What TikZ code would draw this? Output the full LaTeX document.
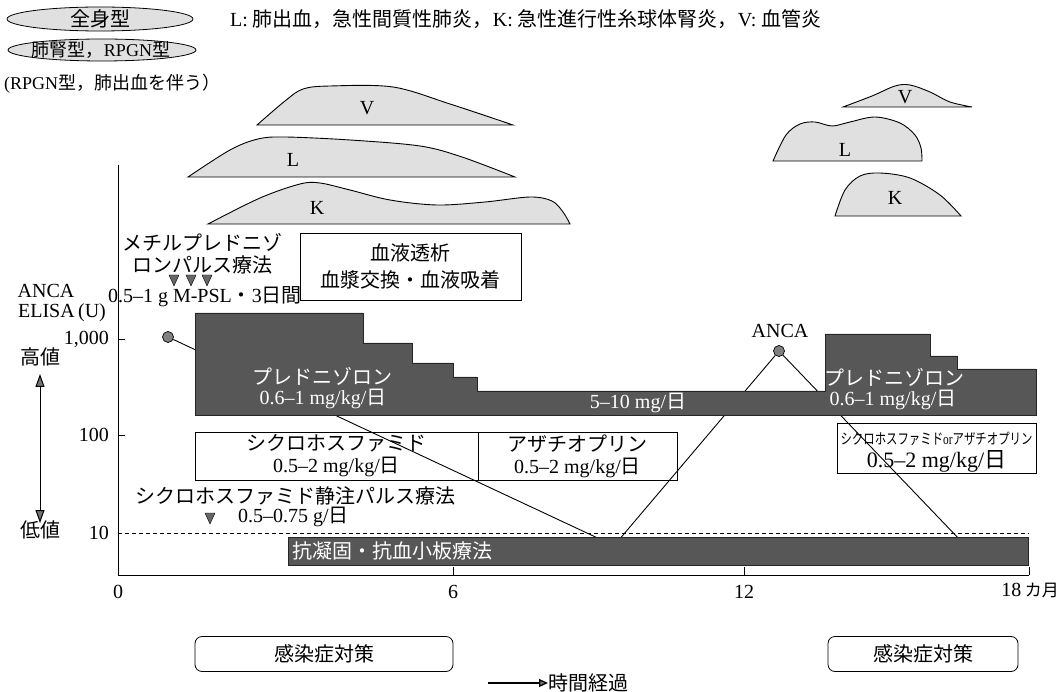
\documentclass[tikz,border=0pt]{standalone}
\usepackage{fontspec}
\usepackage{graphicx}
\setmainfont{Liberation Serif}
\newfontfamily\jp{Noto Sans CJK JP}
\usetikzlibrary{arrows.meta,shapes.geometric}
\newcommand{\J}[1]{{\jp #1}}
\newcommand{\downtri}[2]{\filldraw[pulsetri] (#1-5,#2-5) -- (#1+5,#2-5) -- (#1,#2+6) -- cycle;}
\begin{document}
\begin{tikzpicture}[x=1pt,y=-1pt,
  every node/.style={font=\fontsize{20}{22}\selectfont, inner sep=0pt},
  legell/.style={draw=black, line width=0.8pt, fill=black!12},
  hump/.style={draw=black, line width=0.9pt, fill=black!12},
  darkbar/.style={fill=black!66, draw=black!85, line width=0.5pt},
  whitebox/.style={draw=black, line width=0.8pt, fill=white},
  wtext/.style={text=white},
  axisline/.style={line width=0.9pt},
  dot/.style={circle, fill=black!50, draw=black, line width=0.7pt, minimum size=11pt, inner sep=0pt},
  ancaline/.style={line width=0.9pt},
  pulsetri/.style={fill=black!60, draw=black, line width=0.4pt},
  infobox/.style={draw=black, line width=0.8pt, rounded corners=7pt},
]
\useasboundingbox (0,0) rectangle (1063,692);

% ---------- legend ----------
\draw[legell] (100,19) ellipse [x radius=93, y radius=12];
\node (t1) at (100,19) {\J{全身型}};
\draw[legell] (102,50) ellipse [x radius=94, y radius=11];
\node[font=\fontsize{18}{20}\selectfont] (t2) at (101,50) {\J{肺腎型，}RPGN\J{型}};
\node[anchor=west, font=\fontsize{18}{20}\selectfont] (t3) at (4,84) {(RPGN\J{型，肺出血を伴う）}};
\node[anchor=west] (leg) at (230,19) {L: \J{肺出血，急性間質性肺炎，}K: \J{急性進行性糸球体腎炎，}V: \J{血管炎}};

% ---------- humps (left) ----------
\draw[hump] plot[smooth, tension=0.55] coordinates {(257,125) (285,101) (303,89) (330,86) (393,87) (450,104) (513,125)} -- cycle;
\node (hv1) at (367,108) {V};
\draw[hump] plot[smooth, tension=0.55] coordinates {(188,177) (230,150) (258,139) (285,137) (350,140) (420,146) (462,157) (515,177)} -- cycle;
\node (hl1) at (293,160) {L};
\draw[hump] plot[smooth, tension=0.55] coordinates {(208,224) (260,198) (300,184) (320,183) (350,190) (390,200) (437,205) (485,202) (530,197) (552,201) (563,212) (570,224)} -- cycle;
\node (hk1) at (317,208) {K};

% ---------- humps (right) ----------
\draw[hump] plot[smooth, tension=0.55] coordinates {(843,107) (872,96) (895,86) (910,85) (930,92) (950,102) (972,107)} -- cycle;
\node (hv2) at (905,97) {V};
\draw[hump] plot[smooth, tension=0.55] coordinates {(773,161) (786,135) (800,124) (815,122) (832,126) (850,122) (875,117) (900,123) (915,135) (921,148) (922,161)} -- cycle;
\node (hl2) at (845,150) {L};
\draw[hump] plot[smooth, tension=0.55] coordinates {(835,216) (845,190) (860,176) (880,173) (910,178) (940,195) (961,216)} -- cycle;
\node (hk2) at (895,198) {K};

% ---------- axes ----------
\draw[axisline] (118,165) -- (118,575) -- (1029,575);
\draw[axisline] (118,339) -- (125,339);
\draw[axisline] (118,435) -- (125,435);
\draw[axisline] (453,575) -- (453,567);
\draw[axisline] (744,575) -- (744,567);
\draw[axisline] (1029,575) -- (1029,567);
\draw[line width=0.7pt, dash pattern=on 4pt off 3pt] (118,533) -- (1029,533);

\node (ya) at (46,291) {ANCA};
\node (yb) at (62,313) {ELISA\,(U)};
\node[anchor=east] (y1000) at (109,339) {1,000};
\node[anchor=east] (y100) at (109,435) {100};
\node[anchor=east] (y10) at (109,533) {10};
\node (hi) at (40,357) {\J{高値}};
\node (lo) at (40,530) {\J{低値}};
\draw[line width=1pt, {Triangle[width=9pt,length=13pt,fill=black!55]}-{Triangle[width=9pt,length=13pt,fill=black!55]}] (hi.south |- 0,374) -- (lo.north |- 0,523);

\node (x0) at (118,592) {0};
\node (x6) at (453,592) {6};
\node (x12) at (744,592) {12};
\node[anchor=east] (x18) at (1059,590) {18\,{\jp\fontsize{17}{17}\selectfont カ月}};

% ---------- methylprednisolone pulse ----------
\node[align=center] (mp) at (202,254) {\J{メチルプレドニゾ}\\\J{ロンパルス療法}};
\downtri{174}{280}
\downtri{191}{280}
\downtri{207}{280}
\node (mpd) at (205,297) {0.5--1 g M-PSL\J{・}3\J{日間}};

% ---------- dialysis ----------
\node[whitebox, minimum width=221pt, minimum height=67pt, align=center, font=\fontsize{20}{27}\selectfont] (dial) at (410.5,266.5) {\J{血液透析}\\\J{血漿交換・血液吸着}};

% ---------- drug boxes ----------
\node[whitebox, minimum width=283pt, minimum height=48pt, align=center] (cyc) at (336.5,456) {\J{シクロホスファミド}\\0.5--2 mg/kg/\J{日}};
\node[whitebox, minimum width=199pt, minimum height=48pt, align=center] (aza) at (577.5,456) {\J{アザチオプリン}\\0.5--2 mg/kg/\J{日}};
\node[whitebox, minimum width=199pt, minimum height=50pt] (rbox) at (936.5,448) {};
\node (rbt1) at (936.5,439) {\scalebox{0.76}[1]{\fontsize{15}{15}\selectfont\J{シクロホスファミド}or\J{アザチオプリン}}};
\node[font=\fontsize{22}{24}\selectfont] (rbt2) at (936.5,461) {0.5--2 mg/kg/\J{日}};

% ---------- cyclophosphamide pulse ----------
\node (cp) at (295,496) {\J{シクロホスファミド静注パルス療法}};
\downtri{210}{518}
\node[anchor=west] (cpd) at (238,517) {0.5--0.75 g/\J{日}};

% ---------- ANCA course ----------
\node[dot] (d1) at (168,337) {};
\node[dot] (d2) at (779,351) {};
\node (ancal) at (780,331) {ANCA};
\coordinate (b1) at (604,541);
\coordinate (b2) at (618,541);
\coordinate (b3) at (961,541);
\draw[ancaline] (d1) -- (b1) -- (b2) -- (d2) -- (b3);

% ---------- dark bars ----------
\draw[darkbar] (195,313) -- (363,313) -- (363,343) -- (412,343) -- (412,363) -- (453,363) -- (453,377) -- (477,377) -- (477,391) -- (825,391) -- (825,334) -- (930,334) -- (930,356) -- (957,356) -- (957,369) -- (1036,369) -- (1036,415) -- (195,415) -- cycle;
\node[wtext] (p1) at (322,376) {\J{プレドニゾロン}};
\node[wtext] (p2) at (323,399) {0.6--1 mg/kg/\J{日}};
\node[wtext] (p3) at (638,403) {5--10 mg/\J{日}};
\node[wtext] (p4) at (894,377) {\J{プレドニゾロン}};
\node[wtext] (p5) at (893,400) {0.6--1 mg/kg/\J{日}};

\draw[darkbar] (288,537) rectangle (1028,565);
\node[wtext, anchor=west] (ac) at (292,551) {\J{抗凝固・抗血小板療法}};

% ---------- infection ----------
\node[infobox, minimum width=258pt, minimum height=35pt] (inf1) at (324,654) {\J{感染症対策}};
\node[infobox, minimum width=190pt, minimum height=35pt] (inf2) at (923,654) {\J{感染症対策}};

% ---------- time ----------
\node[anchor=west] (time) at (548,683) {\J{時間経過}};
\coordinate (ts) at (488,683);
\draw[line width=1.3pt, -{Triangle[width=8pt,length=9pt,fill=black!55]}] (ts) -- (time.west);
\end{tikzpicture}
\end{document}
